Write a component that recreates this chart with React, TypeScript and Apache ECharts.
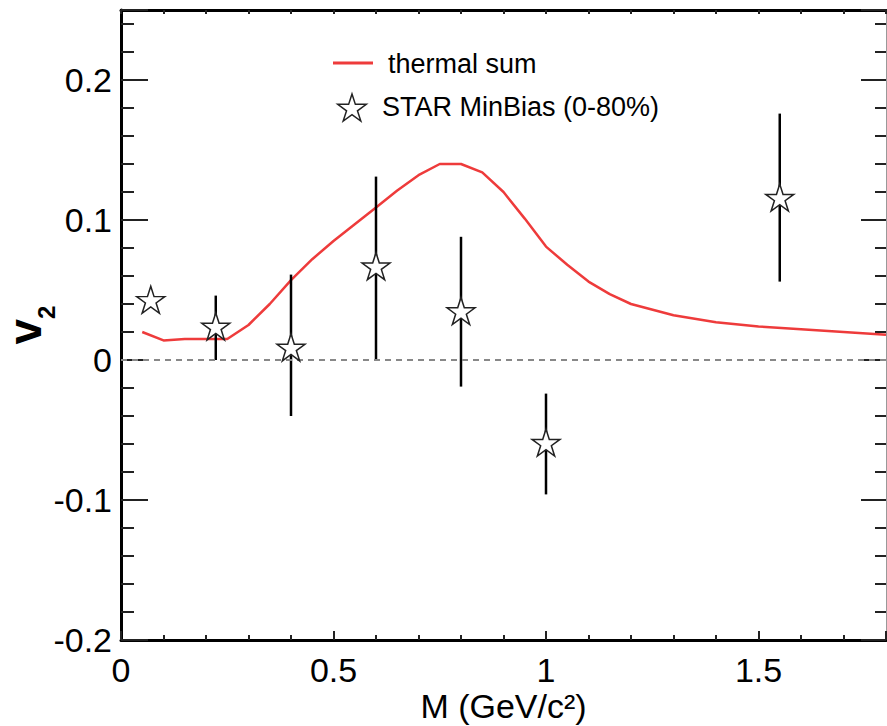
import React, { useEffect, useRef } from "react";
import * as echarts from "echarts";

// thermal sum curve
const curveM = [0.05, 0.1, 0.15, 0.2, 0.25, 0.3, 0.35, 0.4, 0.45, 0.5, 0.55, 0.6, 0.65, 0.7, 0.75, 0.8, 0.85, 0.9, 0.95, 1.0, 1.05, 1.1, 1.15, 1.2, 1.3, 1.4, 1.5, 1.6, 1.7, 1.8];
const curveV2 = [0.02, 0.014, 0.015, 0.015, 0.015, 0.025, 0.04, 0.057, 0.072, 0.085, 0.097, 0.109, 0.121, 0.132, 0.14, 0.14, 0.134, 0.12, 0.101, 0.081, 0.068, 0.056, 0.047, 0.04, 0.032, 0.027, 0.024, 0.022, 0.02, 0.018];

// STAR MinBias (0-80%)
const starM = [0.07, 0.223, 0.4, 0.6, 0.8, 1.0, 1.55];
const starV2 = [0.043, 0.024, 0.009, 0.067, 0.035, -0.059, 0.116];
const errLow = [0.043, 0.0, -0.04, 0.0, -0.019, -0.096, 0.056];
const errHigh = [0.043, 0.046, 0.061, 0.131, 0.088, -0.024, 0.176];

const seriesNames = ["thermal sum", "STAR MinBias (0-80%)"];
const xTitle = "M (GeV/c²)";

const STAR_PATH =
  "path://M0,-100L22.45,-30.9L95.1,-30.9L36.3,11.8L58.8,80.9L0,38.2L-58.8,80.9L-36.3,11.8L-95.1,-30.9L-22.45,-30.9Z";

function starPoints(cx: number, cy: number, r: number): number[][] {
  const pts: number[][] = [];
  for (let k = 0; k < 10; k++) {
    const rr = k % 2 === 0 ? r : r * 0.382;
    const a = (k * 36 * Math.PI) / 180;
    pts.push([cx + rr * Math.sin(a), cy - rr * Math.cos(a)]);
  }
  return pts;
}

const FONT = "Liberation Sans, Arial, Helvetica, sans-serif";

export default function App() {
  const ref = useRef<HTMLDivElement>(null);
  useEffect(() => {
    if (!ref.current) return;
    const chart = echarts.init(ref.current, null, { renderer: "svg" });
    const tickColor = "#222";
    const option: any = {
      animation: false,
      backgroundColor: "#fff",
      textStyle: { fontFamily: FONT },
      grid: { left: 121, right: 1, top: 10, bottom: 86, containLabel: false, outerBoundsMode: "none" },
      xAxis: [
        {
          type: "value",
          min: 0,
          max: 1.8,
          interval: 0.5,
          position: "bottom",
          name: xTitle,
          nameLocation: "middle",
          nameGap: 49,
          nameMoveOverlap: false,
          nameTextStyle: { fontSize: 34, lineHeight: 34, color: "#000", fontFamily: FONT },
          axisLine: { show: true, onZero: false, lineStyle: { color: "#000", width: 3 } },
          axisTick: { show: true, inside: true, length: 9, lineStyle: { color: tickColor, width: 2 } },
          minorTick: { show: true, splitNumber: 5, length: 5, lineStyle: { color: tickColor, width: 2 } },
          splitLine: { show: false },
          axisLabel: { fontSize: 34, lineHeight: 34, color: "#000", margin: 13, showMaxLabel: false, fontFamily: FONT },
        },
        {
          type: "value",
          min: 0,
          max: 1.8,
          interval: 0.5,
          position: "top",
          axisLine: { show: true, onZero: false, lineStyle: { color: "#000", width: 3 } },
          axisTick: { show: true, inside: true, length: 4, lineStyle: { color: tickColor, width: 2 } },
          minorTick: { show: true, splitNumber: 5, length: 4, lineStyle: { color: tickColor, width: 2 } },
          splitLine: { show: false },
          axisLabel: { show: false },
        },
      ],
      yAxis: [
        {
          type: "value",
          min: -0.2,
          max: 0.25,
          interval: 0.1,
          position: "left",
          name: "v{sub|2}",
          nameLocation: "middle",
          nameRotate: 90,
          nameGap: 73,
          nameMoveOverlap: false,
          nameTextStyle: {
            fontSize: 46,
            lineHeight: 46,
            fontWeight: "bold",
            color: "#000",
            fontFamily: FONT,
            rich: {
              sub: { fontSize: 24, lineHeight: 46, fontWeight: "bold", color: "#000", fontFamily: FONT, verticalAlign: "bottom", padding: [0, 0, -10, 0] },
            },
          },
          axisLine: { show: true, onZero: false, lineStyle: { color: "#000", width: 3 } },
          axisTick: { show: true, inside: true, length: 27, lineStyle: { color: tickColor, width: 2 } },
          minorTick: { show: true, splitNumber: 5, length: 13, lineStyle: { color: tickColor, width: 2 } },
          splitLine: { show: false },
          axisLabel: { fontSize: 34, color: "#000", margin: 9, showMaxLabel: false, fontFamily: FONT },
        },
        {
          type: "value",
          min: -0.2,
          max: 0.25,
          interval: 0.1,
          position: "right",
          axisLine: { show: true, onZero: false, lineStyle: { color: "#999", width: 1 } },
          axisTick: { show: true, inside: true, length: 25, lineStyle: { color: tickColor, width: 2 } },
          minorTick: { show: true, splitNumber: 5, length: 11, lineStyle: { color: tickColor, width: 2 } },
          splitLine: { show: false },
          axisLabel: { show: false },
        },
      ],
      series: [
        {
          name: seriesNames[0],
          type: "line",
          xAxisIndex: 0,
          yAxisIndex: 0,
          data: curveM.map((m, i) => [m, curveV2[i]]),
          showSymbol: false,
          symbol: "none",
          lineStyle: { color: "#ee3b3b", width: 2.5 },
          z: 3,
          markLine: {
            silent: true,
            symbol: "none",
            label: { show: false },
            lineStyle: { color: "#888", type: [6, 5], width: 2 },
            data: [{ yAxis: 0 }],
          },
        },
        {
          name: "errors",
          type: "custom",
          xAxisIndex: 0,
          yAxisIndex: 0,
          data: starM.map((m, i) => [m, errLow[i], errHigh[i]]),
          renderItem: (params: any, api: any) => {
            const p1 = api.coord([api.value(0), api.value(1)]);
            const p2 = api.coord([api.value(0), api.value(2)]);
            return {
              type: "line",
              shape: { x1: p1[0], y1: p1[1], x2: p2[0], y2: p2[1] },
              style: { stroke: "#000", lineWidth: 2.5 },
            };
          },
          z: 4,
        },
        {
          name: seriesNames[1],
          type: "scatter",
          xAxisIndex: 0,
          yAxisIndex: 0,
          data: starM.map((m, i) => [m, starV2[i]]),
          symbol: STAR_PATH,
          symbolSize: [28, 27],
          itemStyle: { color: "#fff", borderColor: "#222", borderWidth: 1.5, opacity: 1 },
          z: 5,
        },
      ],
      graphic: [
        { type: "line", shape: { x1: 333, y1: 63, x2: 373, y2: 63 }, style: { stroke: "#ee3b3b", lineWidth: 3 } },
        {
          type: "text",
          x: 388,
          y: 64,
          style: { text: seriesNames[0], fontSize: 27, fill: "#000", fontFamily: FONT, textVerticalAlign: "middle", verticalAlign: "middle" },
        },
        {
          type: "polygon",
          shape: { points: starPoints(352, 109, 15) },
          style: { fill: "#fff", stroke: "#222", lineWidth: 1.5 },
        },
        {
          type: "text",
          x: 382,
          y: 107,
          style: { text: seriesNames[1], fontSize: 27, fill: "#000", fontFamily: FONT, textVerticalAlign: "middle", verticalAlign: "middle" },
        },
      ],
    };
    chart.setOption(option);
    return () => chart.dispose();
  }, []);
  return (
    <div
      ref={ref}
      style={{ position: "fixed", left: 0, top: 0, width: 887, height: 726, background: "#fff" }}
    />
  );
}
